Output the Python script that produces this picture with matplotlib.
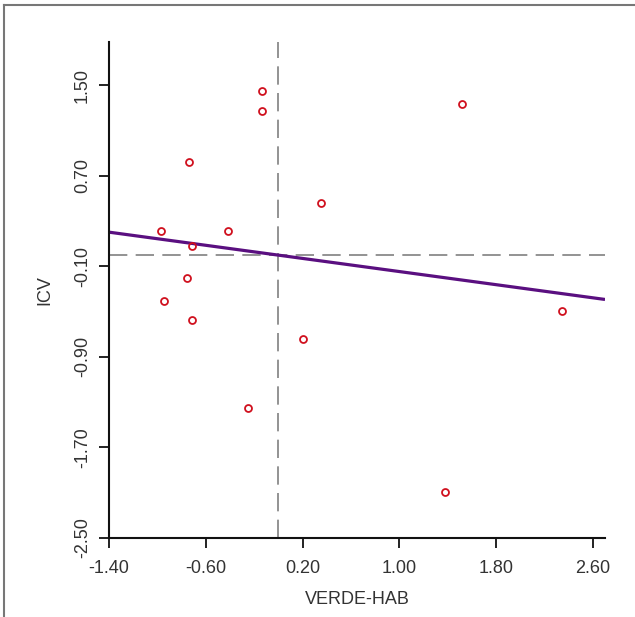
import matplotlib
matplotlib.use("Agg")
import matplotlib.pyplot as plt
import numpy as np
from matplotlib.lines import Line2D

plt.rcParams['font.family'] = ['Liberation Sans', 'DejaVu Sans']

verde_hab = [-0.133, -0.139, -0.741, 0.35, 1.515, -0.973, -0.42, -0.717,
             -0.755, -0.943, -0.717, 0.206, -0.251, 1.377, 2.346]
icv = [1.45, 1.27, 0.82, 0.46, 1.335, 0.209, 0.21, 0.077,
       -0.20, -0.41, -0.577, -0.74, -1.35, -2.09, -0.497]
x_ticks = [-1.40, -0.60, 0.20, 1.00, 1.80, 2.60]
y_ticks = [-2.50, -1.70, -0.90, -0.10, 0.70, 1.50]
x_label = "VERDE-HAB"
y_label = "ICV"

W, H = 635, 617
fig = plt.figure(figsize=(W / 100, H / 100), dpi=100)
ax = fig.add_axes([109 / W, 1 - 538 / H, (605 - 109) / W, (538 - 42) / H])

xmin, xmax = -1.40, 2.70
ymin, ymax = -2.50, 1.88
ax.set_xlim(xmin, xmax)
ax.set_ylim(ymin, ymax)

gray = '#808080'
ax.axvline(np.mean(verde_hab), color=gray, lw=1.2, dashes=(11, 5), zorder=1)
ax.axhline(np.mean(icv), color=gray, lw=1.2, dashes=(11, 5), zorder=1)

slope, intercept = np.polyfit(verde_hab, icv, 1)
xs = np.array([xmin, xmax])
ax.plot(xs, slope * xs + intercept, color='#5a0f80', lw=2.3, zorder=2,
        solid_capstyle='butt')

ax.plot(verde_hab, icv, linestyle='none', marker='o', markersize=5,
        markerfacecolor='none', markeredgecolor='#d0101e', markeredgewidth=1.3,
        zorder=3)

for s in ['top', 'right']:
    ax.spines[s].set_visible(False)
for s in ['left', 'bottom']:
    ax.spines[s].set_linewidth(1.5)
    ax.spines[s].set_color('#111111')

ax.set_xticks(x_ticks)
ax.set_xticklabels([f"{v:.2f}" for v in x_ticks])
ax.set_yticks(y_ticks)
ax.set_yticklabels([f"{v:.2f}" for v in y_ticks], rotation=90, va='center')
ax.tick_params(direction='out', length=7, width=1.3, color='#111111',
               labelsize=13, labelcolor='#333333')
ax.tick_params(axis='x', pad=9)
ax.tick_params(axis='y', pad=6)

ax.set_xlabel(x_label, fontsize=13, color='#333333', labelpad=10)
ax.set_ylabel(y_label, fontsize=13, color='#333333', labelpad=15)

# outer frame (top and left edges visible)
fig.add_artist(Line2D([4 / W, 1.0], [1 - 5 / H, 1 - 5 / H], transform=fig.transFigure,
                      color='#777777', lw=1.5))
fig.add_artist(Line2D([4 / W, 4 / W], [0.0, 1 - 5 / H], transform=fig.transFigure,
                      color='#777777', lw=1.5))

fig.savefig("out.png", dpi=100)
